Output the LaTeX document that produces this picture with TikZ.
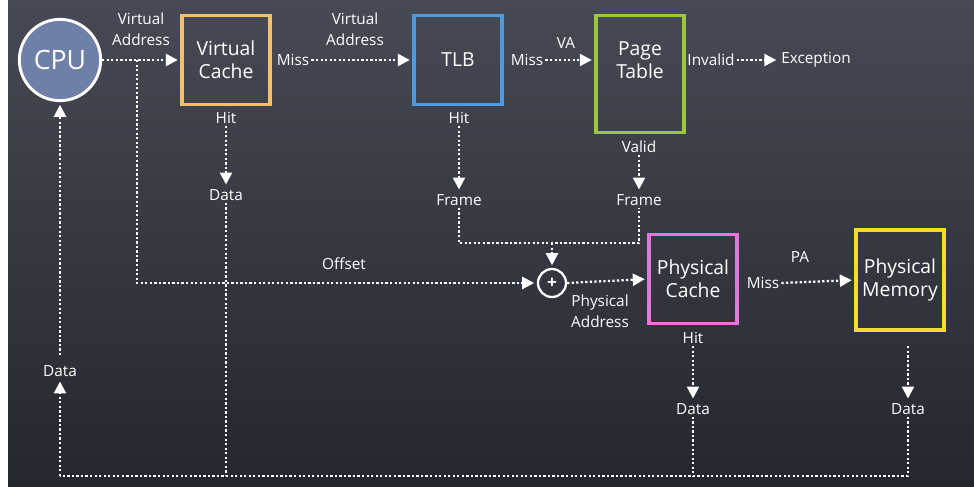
\documentclass[tikz,border=0pt]{standalone}
\usepackage{fontspec}
\setmainfont{Open Sans}
\usetikzlibrary{arrows.meta,shapes.geometric}
\definecolor{bgtop}{HTML}{454A54}
\definecolor{bgmid}{HTML}{3A3F49}
\definecolor{bgbot}{HTML}{24272E}
\definecolor{cpublue}{HTML}{6F80A8}
\definecolor{vcorange}{HTML}{F2C26A}
\definecolor{tlbblue}{HTML}{4C9BE0}
\definecolor{ptgreen}{HTML}{9CC63C}
\definecolor{pcpink}{HTML}{E476DC}
\definecolor{pmyellow}{HTML}{F2DC2E}
\begin{document}
\begin{tikzpicture}[x=0.75pt,y=-0.75pt,
  box/.style={draw, line width=2.3pt, minimum width=66pt, minimum height=67pt, align=center, text=white, font=\fontsize{14.5}{17}\selectfont, inner sep=0pt},
  lbl/.style={text=white, font=\fontsize{11.5}{15.5}\selectfont, align=center, inner sep=1.5pt},
  dotline/.style={white, line width=1.7pt, dash pattern=on 1.7pt off 1.7pt},
  arr/.style={dotline, -{Triangle[length=9pt,width=9pt]}, shorten >=2pt}]
\fill[white] (0,0) rectangle (974,486);
\shade[top color=bgtop, middle color=bgmid, bottom color=bgbot] (8,0) rectangle (974,486);
% nodes
\node[circle, fill=cpublue, draw=white, line width=2.2pt, minimum size=61pt, text=white, font=\fontsize{20}{22}\selectfont, inner sep=0pt] (cpu) at (60,60) {CPU};
\node[box, draw=vcorange] (vc) at (226,60) {Virtual\\Cache};
\node[box, draw=tlbblue] (tlb) at (458,60) {TLB};
\node[box, draw=ptgreen, minimum height=88pt] (pt) at (640,74) {};
\node[text=white, font=\fontsize{14.5}{17}\selectfont, align=center] (ptlabel) at (640,60) {Page\\Table};
\node[box, draw=pcpink] (pc) at (693,279) {Physical\\Cache};
\node[box, draw=pmyellow, minimum height=75pt] (pm) at (900,280) {Physical\\Memory};
\node[circle, draw=white, line width=1.7pt, minimum size=21pt, inner sep=0pt, text=white, font=\bfseries\fontsize{13}{13}\selectfont] (sum) at (552,283) {+};
% labels
\node[lbl] (va1) at (141,29) {Virtual\\Address};
\node[lbl] (va2) at (355,29) {Virtual\\Address};
\node[lbl] (vcmiss) at (293,60) {Miss};
\node[lbl] (tlbmiss) at (527,60) {Miss};
\node[lbl] (valbl) at (566,43) {VA};
\node[lbl] (ptinv) at (711,60) {Invalid};
\node[lbl] (exc) at (816,60) {Exception};
\node[lbl] (vchit) at (226,118) {Hit};
\node[lbl] (vcdata) at (226,195) {Data};
\node[lbl] (tlbhit) at (459,118) {Hit};
\node[lbl] (tlbframe) at (459,200) {Frame};
\node[lbl] (ptvalid) at (639,147) {Valid};
\node[lbl] (ptframe) at (639,200) {Frame};
\node[lbl] (offset) at (344,264) {Offset};
\node[lbl] (paddr) at (600,311) {Physical\\Address};
\node[lbl] (pchit) at (693,338) {Hit};
\node[lbl] (pcdata) at (693,409) {Data};
\node[lbl] (pcmiss) at (763,283) {Miss};
\node[lbl] (palbl) at (800,257) {PA};
\node[lbl] (pmdata) at (908,409) {Data};
\node[lbl] (cpudata) at (60,371) {Data};
% coordinates
\coordinate (oj) at (137,60);
\coordinate (mj) at (552,243);
\coordinate (b1) at (60,476);
\coordinate (b2) at (908,476);
% connectors
\draw[arr] (cpu.east) -- (vc.west);
\draw[arr] (vcmiss.east) -- (tlb.west);
\draw[arr] (tlbmiss.east) -- (tlbmiss.east -| pt.west);
\draw[arr] (ptinv.east) -- (exc.west);
\draw[arr] (vchit.south) -- (vcdata.north);
\draw[arr] (tlbhit.south) -- (tlbframe.north);
\draw[arr] (ptvalid.south) -- (ptframe.north);
\draw[dotline] (tlbframe.south) |- (mj) -| (ptframe.south);
\draw[arr] (mj) -- (sum.north);
\draw[arr] (oj) |- (sum.west);
\draw[arr] (sum.east) -- (pc.west);
\draw[arr] (pchit.south) -- (pcdata.north);
\draw[arr] (pcmiss.east) -- (pm.west);
\draw[arr, shorten <=11pt] (pm.south -| pmdata) -- (pmdata.north);
\draw[dotline] (pmdata.south) -- (b2) -- (b1);
\draw[dotline] (vcdata.south) -- (vcdata.south |- b1);
\draw[dotline] (pcdata.south) -- (pcdata.south |- b1);
\draw[arr] (b1) -- (cpudata.south);
\draw[arr, shorten <=6pt] (cpudata.north) -- (cpu.south);
\end{tikzpicture}
\end{document}
